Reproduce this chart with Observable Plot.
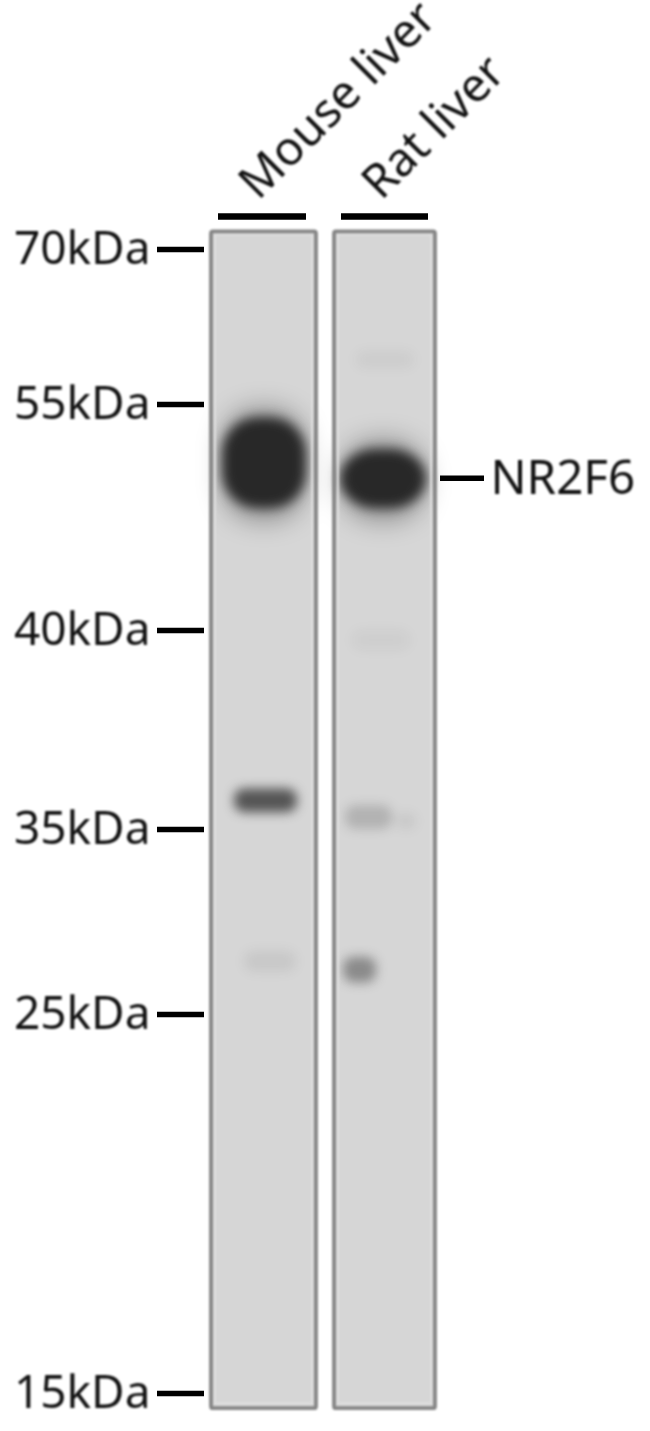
<!DOCTYPE html>
<html>
<head>
<meta charset="utf-8">
<script src="https://cdn.jsdelivr.net/npm/d3@7"></script>
<script src="https://cdn.jsdelivr.net/npm/@observablehq/plot@0.6"></script>
<style>html,body{margin:0;padding:0;background:#fff}svg{display:block}</style>
</head>
<body>
<script>
// Marker ladder (apparent molecular weight, kDa) and where each rung falls on the blot
const ladderKDa = [70, 55, 40, 35, 25, 15];
const ladderRange = [249, 404, 630, 829, 1014, 1393];
const ladderLabels = ["70kDa", "55kDa", "40kDa", "35kDa", "25kDa", "15kDa"];

// Lanes
const laneNames = ["Mouse liver", "Rat liver"];
const laneLeft = [211, 334];
const laneRight = [316, 435];
const laneTopKDa = 71.7;
const laneBottomKDa = 14.6;

// Bands: lane span, kDa span, darkness
const bandLane = ["Mouse", "Rat", "Mouse", "Rat", "Rat", "Mouse", "Rat", "Rat", "Rat"];
const bandX1 = [222, 340, 234, 345, 396, 244, 343, 356, 352];
const bandX2 = [306, 426, 297, 392, 416, 296, 376, 414, 410];
const bandTop = [54.1, 52.0, 36.02, 35.6, 35.4, 28.4, 28.1, 60.1, 40.0];
const bandBottom = [48.1, 48.1, 35.42, 35.0, 35.0, 27.3, 26.7, 58.5, 39.5];
const bandInk = [0.97, 0.97, 0.72, 0.2, 0.08, 0.08, 0.42, 0.05, 0.04];

const targetName = "NR2F6";
const targetKDa = 50.1;

const bands = bandLane.map((lane, i) => ({
  lane, x1: bandX1[i], x2: bandX2[i], top: bandTop[i], bottom: bandBottom[i], ink: bandInk[i]
}));
const main = bands.filter(d => d.ink > 0.9);
const minor = bands.filter(d => d.ink <= 0.9);
const lanes = laneNames.map((name, i) => ({name, x1: laneLeft[i], x2: laneRight[i]}));
const ladder = ladderKDa.map((k, i) => ({k, label: ladderLabels[i]}));

const font = "Noto Sans";
const soft = "blur(1.1px)";

const chart = Plot.plot({
  width: 650,
  height: 1431,
  margin: 0,
  style: {background: "#fff"},
  x: {type: "linear", domain: [0, 650], range: [0, 650], axis: null},
  y: {type: "linear", domain: ladderKDa, range: ladderRange, axis: null},
  marks: [
    // lane background
    Plot.rect(lanes, {x1: "x1", x2: "x2", y1: laneTopKDa, y2: laneBottomKDa, fill: "#d6d6d6"}),
    // halo around main bands
    Plot.rect(main, {x1: "x1", x2: "x2", y1: d => d.top + 0.7, y2: d => d.bottom - 0.9, fill: "#000", fillOpacity: 0.3, rx: 36, imageFilter: "blur(12px)"}),
    // main bands
    Plot.rect(main, {x1: "x1", x2: "x2", y1: "top", y2: "bottom", fill: "#242424", fillOpacity: "ink", rx: 36, imageFilter: "blur(6px)"}),
    // minor bands
    Plot.rect(minor, {x1: "x1", x2: "x2", y1: "top", y2: "bottom", fill: "#222", fillOpacity: "ink", rx: 10, imageFilter: "blur(5.5px)"}),
    // lane inner glow and frames
    Plot.rect(lanes, {x1: d => d.x1 + 3.5, x2: d => d.x2 - 3.5, y1: 71.4, y2: 14.72, fill: "none", stroke: "#dfdfdf", strokeWidth: 2.5, imageFilter: "blur(1px)"}),
    Plot.rect(lanes, {x1: "x1", x2: "x2", y1: laneTopKDa, y2: laneBottomKDa, fill: "none", stroke: "#858585", strokeWidth: 3.8, rx: 2, imageFilter: "blur(0.9px)"}),
    // ladder ticks and labels
    Plot.ruleY(ladder, {y: "k", x1: 157, x2: 204, stroke: "#000", strokeWidth: 5.5, imageFilter: "blur(0.7px)"}),
    Plot.text(ladder, {y: "k", x: 150, text: "label", textAnchor: "end", fontFamily: font, fontSize: 46, fill: "#111", lineAnchor: "middle", imageFilter: soft}),
    // lane bars and names
    Plot.ruleY(lanes, {y: 73.2, x1: d => d.x1 + 7, x2: d => d.x2 - (d.x1 > 300 ? 7 : 10), stroke: "#000", strokeWidth: 6.5, imageFilter: "blur(0.7px)"}),
    Plot.text(lanes, {x: d => d.x1 + 36, y: 75.7, text: "name", rotate: -45, textAnchor: "start", fontFamily: font, fontSize: 47, fill: "#111", lineAnchor: "middle", imageFilter: soft}),
    // target
    Plot.ruleY([targetKDa], {y: d => d, x1: 440, x2: 484, stroke: "#000", strokeWidth: 5.5, imageFilter: "blur(0.7px)"}),
    Plot.text([targetName], {x: 490, y: targetKDa, text: d => d, textAnchor: "start", fontFamily: font, fontSize: 47.5, fill: "#111", lineAnchor: "middle", imageFilter: soft})
  ]
});
document.body.appendChild(chart);
</script>
</body>
</html>
